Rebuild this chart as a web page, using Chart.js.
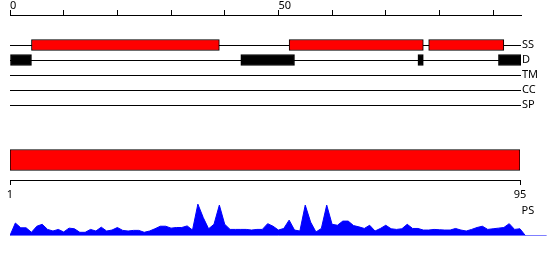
<!DOCTYPE html>
<html><head><meta charset="utf-8">
<script src="https://cdn.jsdelivr.net/npm/chart.js@4.4.1/dist/chart.umd.min.js"></script>
<style>
html,body{margin:0;padding:0;background:#fff;}
#wrap{position:relative;width:550px;height:260px;overflow:hidden;background:#fff;}
canvas{position:absolute;left:0;}
</style></head><body>
<div id="wrap">
<canvas id="tracks" width="550" height="115" style="top:0px"></canvas>
<canvas id="protein" width="550" height="62" style="top:140px"></canvas>
<canvas id="ps" width="550" height="40" style="top:200px"></canvas>
</div>
<script>
// ---- data ----
const topTickValues = [0, 10, 20, 30, 40, 50, 60, 70, 80, 90];
const topTickLabels = ['0', '', '', '', '', '50', '', '', '', ''];
const trackNames = ['SS', 'D', 'TM', 'CC', 'SP'];
const ssSegments = [[4, 39], [52, 77], [78, 92]];
const disorderSegments = [[0, 4], [43, 53], [76, 77], [91, 95.2]];
const proteinRange = [1, 95];
const bottomTickValues = [1, 95];
const psTrackName = 'PS';
const psValues = [
  0, 0.39, 0.24, 0.24, 0.10, 0.29, 0.35, 0.19, 0.14, 0.19,
  0.11, 0.23, 0.21, 0.10, 0.10, 0.19, 0.14, 0.26, 0.14, 0.17,
  0.25, 0.16, 0.14, 0.16, 0.16, 0.10, 0.14, 0.21, 0.29, 0.29,
  0.23, 0.25, 0.25, 0.30, 0.17, 0.98, 0.56, 0.21, 0.35, 0.95,
  0.35, 0.19, 0.19, 0.19, 0.19, 0.17, 0.19, 0.19, 0.37, 0.29,
  0.17, 0.22, 0.48, 0.17, 0.14, 0.95, 0.42, 0.11, 0.22, 0.95,
  0.35, 0.32, 0.45, 0.45, 0.31, 0.27, 0.22, 0.32, 0.14, 0.22,
  0.32, 0.21, 0.19, 0.21, 0.35, 0.22, 0.22, 0.17, 0.17, 0.19,
  0.18, 0.17, 0.17, 0.22, 0.17, 0.14, 0.19, 0.25, 0.29, 0.19,
  0.21, 0.23, 0.25, 0.37, 0.19, 0.21, 0
];
const baselineRange = [0, 100];

// ---- defaults ----
Chart.defaults.font.family = "'Noto Sans', 'DejaVu Sans', sans-serif";
Chart.defaults.font.size = 11;
Chart.defaults.color = '#000';
Chart.defaults.animation = false;

const trackRowOffset = 2;

// ---- feature tracks ----
new Chart(document.getElementById('tracks'), {
  type: 'bar',
  data: {
    datasets: [
      { label: 'SS', data: ssSegments.map(s => ({ x: s, y: trackRowOffset + trackNames.indexOf('SS') })),
        backgroundColor: '#ff0000', borderColor: '#000', borderWidth: 1, borderSkipped: false,
        barThickness: 11, grouped: false },
      { label: 'D', data: disorderSegments.map(s => ({ x: s, y: trackRowOffset + trackNames.indexOf('D') })),
        backgroundColor: '#000', borderColor: '#000', borderWidth: 1, borderSkipped: false,
        barThickness: 11, grouped: false }
    ]
  },
  options: {
    responsive: false, indexAxis: 'y',
    layout: { padding: { left: 10, right: 0, top: 0, bottom: 10 } },
    plugins: { legend: { display: false }, tooltip: { enabled: false } },
    scales: {
      x: {
        type: 'linear', position: 'top', min: 0, max: 95.2,
        afterBuildTicks: s => { s.ticks = topTickValues.map(v => ({ value: v })); },
        afterFit: s => { s.height = 15; },
        ticks: { align: 'start', padding: -2, maxRotation: 0, autoSkip: false,
                 callback: (v, i) => topTickLabels[i] },
        grid: { drawOnChartArea: false, drawTicks: true, tickLength: 5, color: '#000' },
        border: { display: true, color: '#000' }
      },
      y: {
        type: 'linear', position: 'right', reverse: true, min: 0, max: 6, offset: false,
        afterBuildTicks: s => { s.ticks = trackNames.map((n, i) => ({ value: trackRowOffset + i })); },
        afterFit: s => { s.width = 29; s.paddingTop = 0; s.paddingBottom = 0; },
        ticks: { padding: 1, autoSkip: false, callback: (v, i) => trackNames[i] },
        grid: { drawTicks: false, offset: false, color: '#000' },
        border: { display: false }
      }
    }
  }
});

// ---- protein bar ----
new Chart(document.getElementById('protein'), {
  type: 'bar',
  data: {
    labels: ['protein'],
    datasets: [{ data: [proteinRange], backgroundColor: '#ff0000', borderColor: '#000',
                 borderWidth: 1, borderSkipped: false, barThickness: 21 }]
  },
  options: {
    responsive: false, indexAxis: 'y',
    layout: { padding: { left: 10, right: 30, top: 0, bottom: 0 } },
    plugins: { legend: { display: false }, tooltip: { enabled: false } },
    scales: {
      x: {
        type: 'linear', position: 'bottom', min: proteinRange[0], max: proteinRange[1],
        afterBuildTicks: s => { s.ticks = bottomTickValues.map(v => ({ value: v })); },
        afterFit: s => { s.height = 22; },
        ticks: { padding: 3, maxRotation: 0, autoSkip: false },
        grid: { drawOnChartArea: false, tickLength: 5, color: '#000' },
        border: { color: '#000' }
      },
      y: { display: false }
    }
  }
});

// ---- PS profile ----
new Chart(document.getElementById('ps'), {
  type: 'line',
  data: {
    datasets: [
      { label: psTrackName, data: psValues.map((v, i) => ({ x: i, y: v })), fill: 'origin',
        backgroundColor: '#0000ff', borderColor: '#0000ff', borderWidth: 1, pointRadius: 0, tension: 0 },
      { label: 'baseline', data: baselineRange.map(x => ({ x: x, y: 0 })), fill: false,
        borderColor: '#0000ff', borderWidth: 1, pointRadius: 0 }
    ]
  },
  options: {
    responsive: false,
    layout: { padding: { left: 10, right: 3.2, top: 3.5, bottom: 4.5 } },
    plugins: { legend: { display: false }, tooltip: { enabled: false } },
    scales: {
      x: { type: 'linear', min: baselineRange[0], max: baselineRange[1], display: false },
      y: {
        type: 'linear', position: 'right', min: 0, max: 1,
        afterBuildTicks: s => { s.ticks = [{ value: 1 }]; },
        afterFit: s => { s.width = 0; s.paddingTop = 0; s.paddingBottom = 0; },
        ticks: { mirror: true, padding: -12.5, labelOffset: 7.7, callback: () => psTrackName },
        grid: { display: false, drawTicks: false },
        border: { display: false }
      }
    }
  }
});
</script>
</body></html>
